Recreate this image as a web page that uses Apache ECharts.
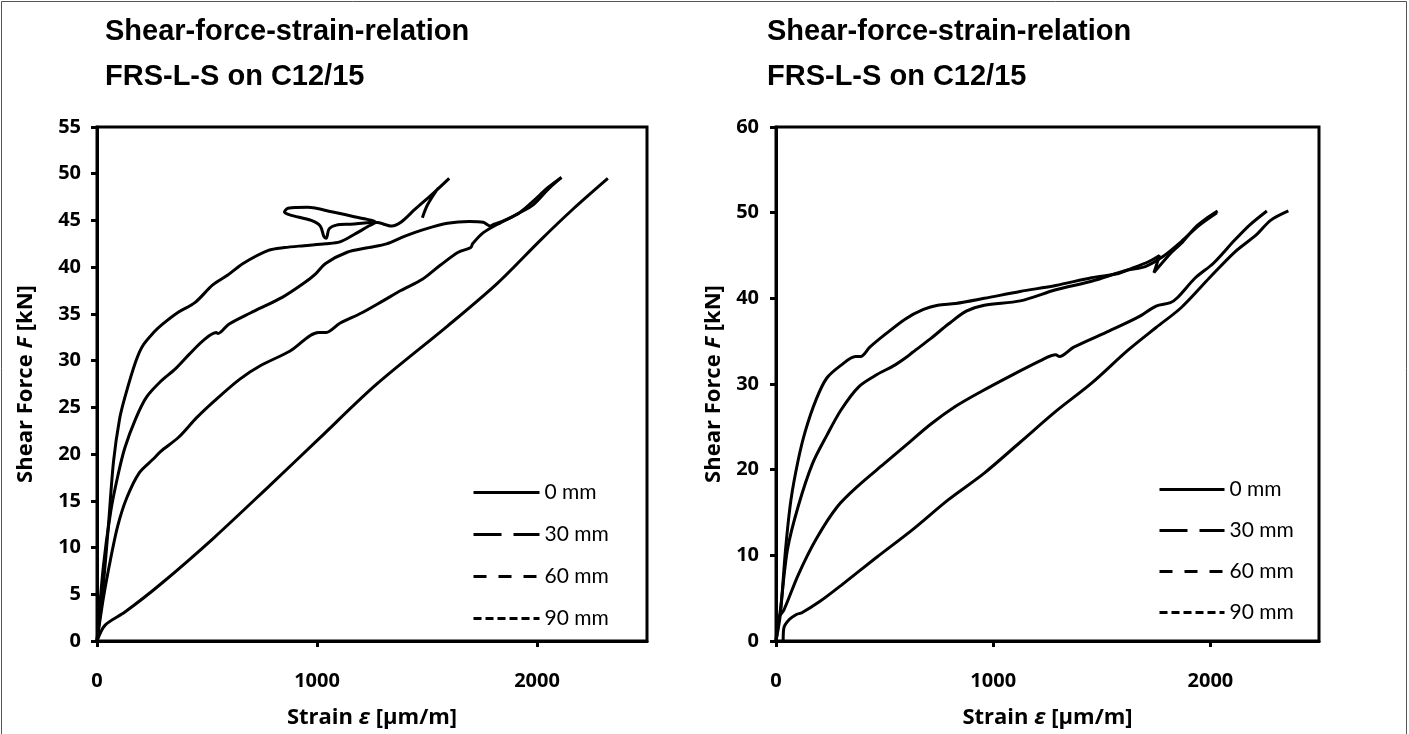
<!DOCTYPE html>
<html>
<head>
<meta charset="utf-8">
<script src="https://cdn.jsdelivr.net/npm/echarts@6/dist/echarts.min.js"></script>
<style>
  html, body { margin: 0; padding: 0; background: #fff; }
  #chart-container { width: 1409px; height: 734px; }
</style>
</head>
<body>
<div id="chart-container"></div>
<script>
// titles and legend names
const titleLine1 = "Shear-force-strain-relation";
const titleLine2 = "FRS-L-S on C12/15";
const seriesNames = ["0 mm", "30 mm", "60 mm", "90 mm"];
const legendDash = ["solid", [28, 12], [13, 12], [8, 4]];

// left chart: [strain µm/m, force kN]
const left0mm = [[0, 0], [37, 1.7], [127, 3.1], [290, 6.1], [534, 11.1], [779, 16.5], [1007, 21.6],
  [1267, 27.4], [1593, 33.7], [1821, 38.3], [2016, 42.9], [2163, 46.2], [2322, 49.5]];
const left30mm = [[0, 0], [29, 4.6], [62, 8.8], [94, 12.3], [135, 15.3], [192, 18.0], [257, 19.5],
  [290, 20.3], [371, 21.8], [453, 23.9], [534, 25.7], [648, 28.0], [746, 29.5], [876, 31.0],
  [1007, 33.0], [1039, 33.0], [1104, 34.0], [1202, 35.1], [1300, 36.4], [1381, 37.5], [1479, 38.7],
  [1560, 40.2], [1642, 41.6], [1699, 42.1], [1707, 42.5], [1756, 43.7], [1837, 44.8], [1919, 45.8],
  [1984, 47.1], [2049, 48.5], [2111, 49.6]];
const left60mm = [[0, 0], [29, 8.0], [62, 13.8], [94, 17.6], [127, 20.7], [176, 23.8], [225, 26.1],
  [290, 27.8], [355, 29.1], [420, 30.7], [485, 32.2], [542, 33.0], [550, 32.9], [599, 33.9],
  [697, 35.1], [844, 36.8], [941, 38.3], [990, 39.2], [1039, 40.4], [1137, 41.6], [1235, 42.1],
  [1316, 42.5], [1397, 43.3], [1495, 44.1], [1593, 44.7], [1691, 44.9], [1756, 44.8], [1788, 44.4],
  [1805, 44.6], [1853, 45.0], [1919, 45.8], [1984, 46.7], [2049, 48.3], [2111, 49.6]];
const left90mm = [[0, 0], [29, 6.1], [54, 13.0], [75, 19.2], [103, 23.8], [127, 26.1], [176, 29.9],
  [208, 31.6], [257, 33.0], [298, 33.9], [371, 35.2], [445, 36.2], [526, 38.1], [591, 39.1],
  [664, 40.4], [779, 41.8], [852, 42.1], [941, 42.3], [1039, 42.5], [1104, 42.7], [1169, 43.5],
  [1235, 44.4], [1267, 44.8], [1169, 45.4], [1072, 45.9], [958, 46.4], [868, 46.3], [852, 45.9],
  [876, 45.6], [974, 45.0], [1015, 44.4], [1031, 43.3], [1042, 43.1], [1055, 44.1], [1088, 44.5],
  [1153, 44.6], [1267, 44.8], [1340, 44.4], [1381, 44.8], [1446, 46.2], [1528, 47.9], [1601, 49.5],
  [1479, "-"], [1479, 45.3], [1503, 46.7], [1552, 48.5]];

// right chart: [strain µm/m, force kN]
const right0mm = [[33, 0], [36, 1.5], [61, 2.5], [94, 3.1], [119, 3.3], [201, 4.6], [300, 6.5],
  [465, 9.8], [629, 13.0], [794, 16.5], [959, 19.6], [1124, 23.2], [1288, 26.8], [1453, 30.1],
  [1618, 33.9], [1750, 36.6], [1865, 38.9], [1996, 42.4], [2112, 45.4], [2211, 47.4], [2277, 49.1],
  [2359, 50.2]];
const right30mm = [[0, 0], [12, 2.7], [36, 3.6], [102, 7.7], [185, 11.9], [283, 15.7], [382, 18.2],
  [498, 20.7], [596, 22.8], [712, 25.3], [827, 27.4], [943, 29.1], [1091, 31.1], [1223, 32.8],
  [1288, 33.4], [1305, 33.2], [1371, 34.3], [1535, 36.2], [1667, 37.8], [1750, 39.1], [1816, 39.5],
  [1849, 40.1], [1931, 42.4], [2014, 44.1], [2112, 46.8], [2178, 48.5], [2260, 50.2]];
const right60mm = [[0, 0], [20, 3.6], [53, 10.7], [102, 15.7], [168, 20.7], [234, 24.0], [300, 27.0],
  [382, 29.7], [465, 31.1], [547, 32.2], [605, 33.2], [629, 33.7], [712, 35.3], [794, 37.0],
  [876, 38.5], [959, 39.2], [1124, 39.7], [1288, 41.0], [1453, 42.0], [1618, 43.3], [1700, 43.7],
  [1783, 44.9], [1865, 46.6], [1947, 48.5], [2030, 50.0]];
const right90mm = [[0, 0], [20, 3.1], [44, 10.7], [69, 16.5], [102, 21.1], [135, 24.5], [185, 28.2],
  [234, 30.7], [300, 32.2], [366, 33.2], [390, 33.2], [432, 34.3], [498, 35.7], [596, 37.6],
  [679, 38.7], [745, 39.2], [827, 39.4], [959, 40.0], [1124, 40.8], [1288, 41.5], [1453, 42.4],
  [1577, 42.9], [1618, 43.3], [1717, 44.3], [1766, 45.0], [1740, 43.0], [1815, 45.2], [1865, 46.4],
  [1931, 48.3], [1980, 49.3], [2033, 50.2]];

const leftData = [left0mm, left30mm, left60mm, left90mm];
const rightData = [right0mm, right30mm, right60mm, right90mm];

let dom = document.getElementById("chart-container");
let myChart = echarts.init(dom, null, { renderer: "canvas" });

const labelFont = { color: "#000", fontFamily: "Open Sans", fontWeight: 700, fontSize: 20 };
const nameFont = { color: "#000", fontFamily: "Open Sans", fontWeight: 700, fontSize: 22 };
const titleFont = { color: "#000", fontFamily: "Liberation Sans", fontWeight: "bold", fontSize: 29 };

function nameStyle() {
  return Object.assign({}, nameFont, {
    rich: { i: Object.assign({}, nameFont, { fontStyle: "italic" }) },
  });
}

function xAxisFor(idx) {
  return {
    type: "value", gridIndex: idx, min: 0, max: 2500, interval: 1000,
    name: "Strain {i|ε} [µm/m]", nameLocation: "middle", nameGap: 66,
    nameTextStyle: nameStyle(),
    axisLine: { show: true, lineStyle: { color: "#000", width: 3 } },
    axisTick: { show: true, length: 6, lineStyle: { color: "#000", width: 3 } },
    axisLabel: Object.assign({ margin: 30, showMaxLabel: false, formatter: (v) => String(v) }, labelFont),
    splitLine: { show: false },
  };
}

function yAxisFor(idx, max, interval, gap, margin) {
  return {
    type: "value", gridIndex: idx, min: 0, max: max, interval: interval,
    name: "Shear Force {i|F} [kN]", nameLocation: "middle", nameGap: gap,
    nameTextStyle: nameStyle(),
    axisLine: { show: true, lineStyle: { color: "#000", width: 3 } },
    axisTick: { show: true, length: 6, lineStyle: { color: "#000", width: 3 } },
    axisLabel: Object.assign({ margin: margin, formatter: (v) => String(v) }, labelFont),
    splitLine: { show: false },
  };
}

function legendFor(left, top, gap, width) {
  return {
    orient: "vertical", left: left, top: top, padding: 0,
    itemWidth: width, itemHeight: 14, itemGap: gap,
    textStyle: { color: "#000", fontFamily: "Lato", fontSize: 21 },
    data: seriesNames.map((n, i) => ({
      name: n,
      itemStyle: { opacity: 0 },
      lineStyle: { color: "#000", width: 3, type: legendDash[i] },
    })),
  };
}

let series = [];
[leftData, rightData].forEach((set, g) => {
  set.forEach((d, i) => {
    series.push({
      name: seriesNames[i], type: "line", xAxisIndex: g, yAxisIndex: g,
      data: d, showSymbol: false, symbol: "none", smooth: 0.3, connectNulls: false,
      lineStyle: { color: "#000", width: 3 }, itemStyle: { color: "#000" },
      emphasis: { disabled: true },
    });
  });
});

let option = {
  backgroundColor: "#fff",
  animation: false,
  title: [
    { text: titleLine1, left: 100, top: 12, textStyle: titleFont },
    { text: titleLine2, left: 100, top: 57, textStyle: titleFont },
    { text: titleLine1, left: 762, top: 12, textStyle: titleFont },
    { text: titleLine2, left: 762, top: 57, textStyle: titleFont },
  ],
  grid: [
    { left: 97, top: 127, width: 550, height: 515, show: true, borderColor: "#000", borderWidth: 3 },
    { left: 776, top: 127, width: 543, height: 515, show: true, borderColor: "#000", borderWidth: 3 },
  ],
  xAxis: [xAxisFor(0), xAxisFor(1)],
  yAxis: [yAxisFor(0, 55, 5, 60, 16), yAxisFor(1, 60, 10, 51, 17)],
  legend: [legendFor(472, 482, 21, 66), legendFor(1158, 479, 20, 65)],
  graphic: [{
    type: "rect", silent: true,
    shape: { x: 1.5, y: 1.5, width: 1405, height: 780 },
    style: { fill: "none", stroke: "#555", lineWidth: 1 },
  }],
  series: series,
};

if (option && typeof option === "object") {
  myChart.setOption(option);
}

window.addEventListener("resize", myChart.resize);
</script>
</body>
</html>
